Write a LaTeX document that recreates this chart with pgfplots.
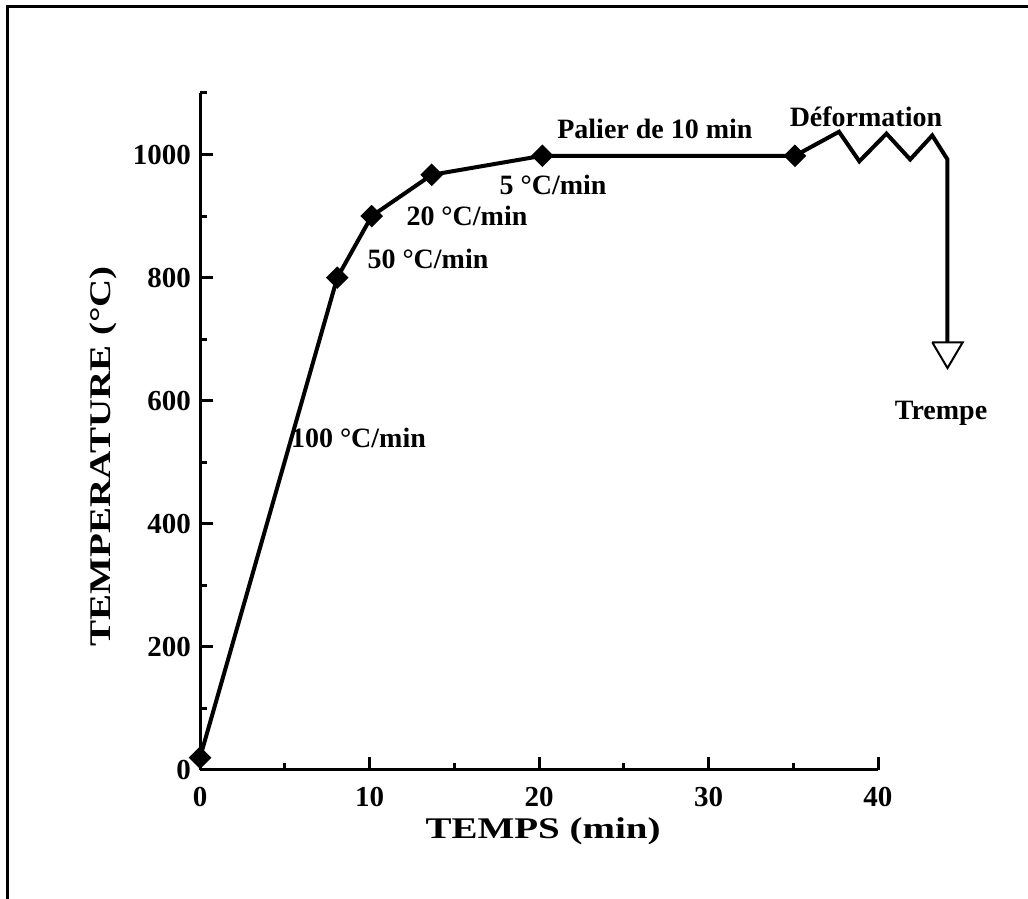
\documentclass[border=0pt]{standalone}
\usepackage{pgfplots}
\pgfplotsset{compat=1.18}
\usepackage{fontspec}
\setmainfont{Liberation Serif}
\newfontfamily\widefont[FakeStretch=1.3]{Liberation Serif}
\begin{document}
\begin{tikzpicture}[x=0.5pt,y=0.5pt,
    lbl/.style={font=\fontsize{14}{16}\selectfont\bfseries},
    ttl/.style={font=\widefont\fontsize{15}{17}\selectfont\bfseries}]
\useasboundingbox (0,0) rectangle (1028,899);
% frame (only left and top edges are visible)
\draw[line width=1.5pt] (7,0) -- (7,892) -- (1028,892);
\begin{axis}[
    at={(100pt,64.5pt)}, anchor=south west,
    scale only axis, width=339pt, height=338.5pt,
    xmin=0, xmax=40, ymin=0, ymax=1100,
    axis x line=bottom, axis y line=left,
    axis line style={-, line width=1.5pt},
    tick align=inside,
    xtick={0,10,...,40}, minor xtick={5,15,25,35},
    ytick={0,200,...,1000}, minor ytick={100,300,...,1100},
    major tick length=6.5pt, minor tick length=3.5pt,
    every tick/.style={black, line width=1.5pt},
    tick label style={font=\fontsize{14.5}{16}\selectfont\bfseries},
    /pgf/number format/assume math mode=true,
    /pgf/number format/1000 sep={},
    xticklabel style={yshift=-5pt},
    yticklabel style={xshift=-1pt},
    clip=false,
]
\addplot[black, line width=2pt, mark=square*, mark size=3pt,
  mark options={rotate=45}, mark indices={1,2,3,4,5,6}]
  coordinates {(0,20) (8.1,800) (10.13,900) (13.67,967) (20.2,998) (35.1,998)
    (37.7,1037) (38.9,989) (40.5,1034) (41.9,992) (43.2,1031) (44.1,992) (44.1,695)};
\addplot[black, line width=1pt] coordinates {(43.2,695) (45.0,695) (44.1,653) (43.2,695)};
\node[lbl] at (axis cs:9.35,540) {100 °C/min};
\node[lbl] at (axis cs:13.45,831) {50 °C/min};
\node[lbl] at (axis cs:15.75,901) {20 °C/min};
\node[lbl] at (axis cs:20.83,951) {5 °C/min};
\node[lbl] at (axis cs:26.84,1042) {Palier de 10 min};
\node[lbl] at (axis cs:39.29,1062) {Déformation};
\node[lbl] at (axis cs:43.72,579) {Trempe};
\node[ttl] at (axis cs:20.24,-99) {TEMPS (min)};
\node[ttl,rotate=90] at (axis cs:-5.72,510) {TEMPERATURE (°C)};
\end{axis}
\end{tikzpicture}
\end{document}
